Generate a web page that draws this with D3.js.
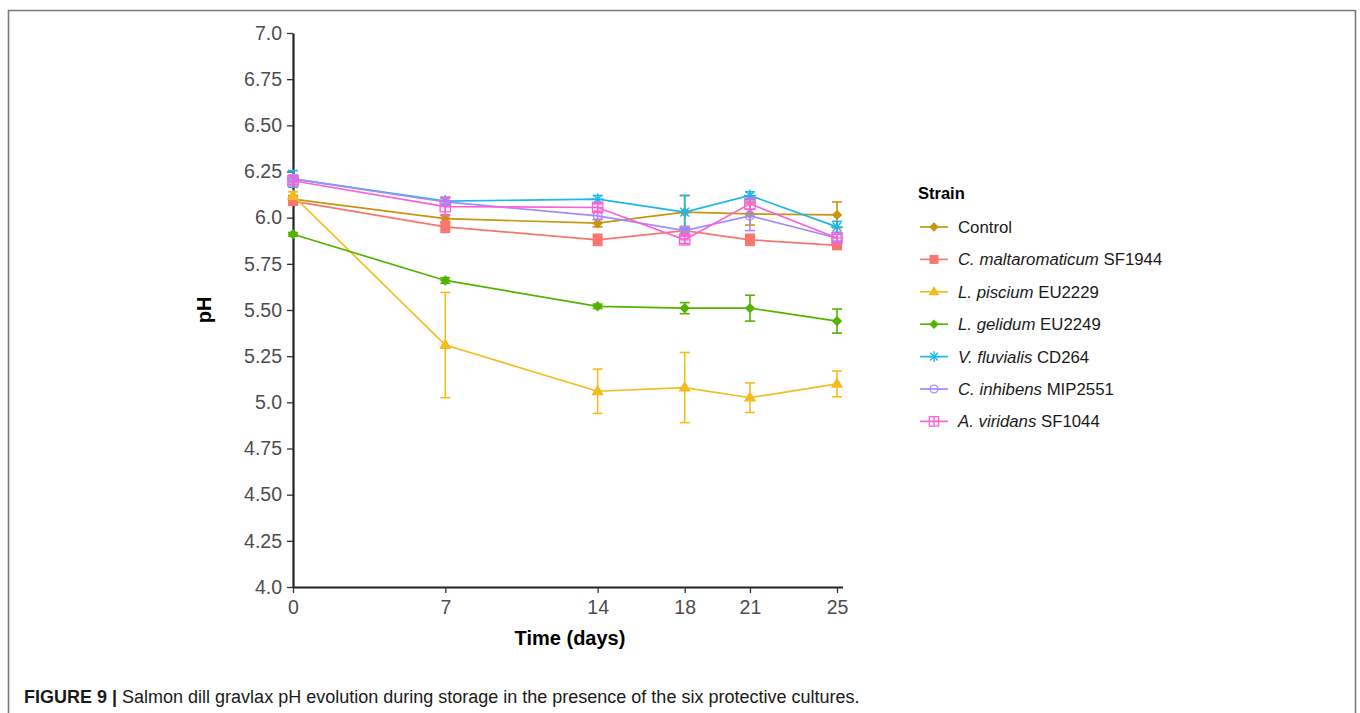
<!DOCTYPE html>
<html><head><meta charset="utf-8">
<script src="https://cdn.jsdelivr.net/npm/d3@7"></script>
<style>body{margin:0;background:#fff}svg{display:block}</style>
</head><body>
<svg id="c" width="1360" height="713"></svg>
<script>
const days = [0, 7, 14, 18, 21, 25];
const yTicks = [4.0, 4.25, 4.5, 4.75, 5.0, 5.25, 5.5, 5.75, 6.0, 6.25, 6.5, 6.75, 7.0];
const yTickLabels = ["4.0","4.25","4.50","4.75","5.0","5.25","5.50","5.75","6.0","6.25","6.50","6.75","7.0"];
const strainNames = ["Control","C. maltaromaticum","L. piscium","L. gelidum","V. fluvialis","C. inhibens","A. viridans"];
const strainCodes = ["","SF1944","EU2229","EU2249","CD264","MIP2551","SF1044"];
const colors = ["#C99510","#F8766D","#F5BC1E","#53B400","#1DB8EB","#A58AFF","#FB61D7"];
const shapes = ["diamond","square","triangle","diamond","asterisk","circleOpen","squarePlus"];
const controlPH  = [6.10, 5.995, 5.97, 6.03, 6.02, 6.015];
const controlSD  = [0.02, 0.02, 0.02, 0.09, 0.06, 0.07];
const maltPH     = [6.09, 5.95, 5.88, 5.93, 5.88, 5.85];
const maltSD     = [0.02, 0.03, 0.03, 0.02, 0.03, 0.02];
const piscPH     = [6.12, 5.31, 5.06, 5.08, 5.025, 5.10];
const piscSD     = [0.02, 0.285, 0.12, 0.19, 0.08, 0.07];
const gelPH      = [5.91, 5.66, 5.52, 5.51, 5.51, 5.44];
const gelSD      = [0.01, 0.015, 0.012, 0.03, 0.07, 0.065];
const fluvPH     = [6.21, 6.09, 6.10, 6.03, 6.12, 5.95];
const fluvSD     = [0.045, 0.02, 0.02, 0.09, 0.02, 0.03];
const inhPH      = [6.21, 6.085, 6.01, 5.93, 6.01, 5.89];
const inhSD      = [0.02, 0.02, 0.02, 0.02, 0.08, 0.02];
const virPH      = [6.20, 6.06, 6.055, 5.88, 6.075, 5.89];
const virSD      = [0.02, 0.05, 0.02, 0.02, 0.03, 0.03];
const allPH = [controlPH, maltPH, piscPH, gelPH, fluvPH, inhPH, virPH];
const allSD = [controlSD, maltSD, piscSD, gelSD, fluvSD, inhSD, virSD];

const svg = d3.select("#c");
const x = d3.scaleLinear().domain([0,25]).range([293,837]);
const y = d3.scaleLinear().domain([4,7]).range([587,33]);
const FONT = "Liberation Sans, Arial, sans-serif";

// frame
svg.append("path").attr("d","M8.5,713 V10.5 H1355.5 V713").attr("fill","none").attr("stroke","#7a7a7a").attr("stroke-width",1.6);

// axes
const gy = svg.append("g").attr("transform","translate(293,0)")
  .call(d3.axisLeft(y).tickValues(yTicks).tickFormat((d,i)=>yTickLabels[i]).tickSize(6).tickSizeOuter(0));
gy.select(".domain").attr("stroke","#222").attr("stroke-width",2.2);
gy.selectAll(".tick line").attr("stroke","#333").attr("stroke-width",1.3);
gy.selectAll(".tick text").attr("fill","#4D4D4D").attr("font-family",FONT).attr("font-size","19.5px").attr("x",-11);

const gx = svg.append("g").attr("transform","translate(0,587)")
  .call(d3.axisBottom(x).tickValues(days).tickFormat(d3.format("d")).tickSize(6).tickSizeOuter(0));
gx.select(".domain").attr("d","M293,0.5 H843").attr("stroke","#222").attr("stroke-width",2.2);
gx.selectAll(".tick line").attr("stroke","#333").attr("stroke-width",1.3);
gx.selectAll(".tick text").attr("fill","#4D4D4D").attr("font-family",FONT).attr("font-size","19.5px").attr("dy","0.9em");

svg.append("text").attr("x",570).attr("y",645).attr("text-anchor","middle")
  .attr("font-family",FONT).attr("font-weight","bold").attr("font-size","20px").text("Time (days)");
svg.append("text").attr("transform","translate(211,310) rotate(-90)").attr("text-anchor","middle")
  .attr("font-family",FONT).attr("font-weight","bold").attr("font-size","20px").text("pH");

function drawShape(g, shape, cx, cy, col, s) {
  s = s || 1;
  if (shape==="diamond") {
    const r=5.2*s;
    g.append("path").attr("d",`M${cx},${cy-r}L${cx+r},${cy}L${cx},${cy+r}L${cx-r},${cy}Z`).attr("fill",col);
  } else if (shape==="square") {
    const r=5*s;
    g.append("rect").attr("x",cx-r).attr("y",cy-r).attr("width",2*r).attr("height",2*r).attr("fill",col);
  } else if (shape==="triangle") {
    const r=6.5*s;
    g.append("path").attr("d",`M${cx},${cy-r}L${cx+r*0.95},${cy+r*0.6}L${cx-r*0.95},${cy+r*0.6}Z`).attr("fill",col);
  } else if (shape==="asterisk") {
    const r=6*s; const gg=g.append("g").attr("stroke",col).attr("stroke-width",1.4);
    gg.append("line").attr("x1",cx-r).attr("x2",cx+r).attr("y1",cy).attr("y2",cy);
    gg.append("line").attr("x1",cx).attr("x2",cx).attr("y1",cy-r).attr("y2",cy+r);
    const d=r*0.72;
    gg.append("line").attr("x1",cx-d).attr("x2",cx+d).attr("y1",cy-d).attr("y2",cy+d);
    gg.append("line").attr("x1",cx-d).attr("x2",cx+d).attr("y1",cy+d).attr("y2",cy-d);
  } else if (shape==="circleOpen") {
    g.append("circle").attr("cx",cx).attr("cy",cy).attr("r",4.3*s).attr("fill","none").attr("stroke",col).attr("stroke-width",1.3);
  } else if (shape==="squarePlus") {
    const r=5.2*s; const gg=g.append("g").attr("stroke",col).attr("stroke-width",1.3).attr("fill","none");
    gg.append("rect").attr("x",cx-r).attr("y",cy-r).attr("width",2*r).attr("height",2*r);
    gg.append("line").attr("x1",cx-r).attr("x2",cx+r).attr("y1",cy).attr("y2",cy);
    gg.append("line").attr("x1",cx).attr("x2",cx).attr("y1",cy-r).attr("y2",cy+r);
  }
}

const line = d3.line().x(d=>x(d[0])).y(d=>y(d[1]));
allPH.forEach((vals,i)=>{
  const g = svg.append("g");
  const pts = days.map((d,j)=>[d, vals[j], allSD[i][j]]);
  g.append("path").datum(pts).attr("d",line).attr("fill","none").attr("stroke",colors[i]).attr("stroke-width",1.7);
  pts.forEach(p=>{
    const cx=x(p[0]), y1=y(p[1]+p[2]), y2=y(p[1]-p[2]);
    g.append("line").attr("x1",cx).attr("x2",cx).attr("y1",y1).attr("y2",y2).attr("stroke",colors[i]).attr("stroke-width",1.6);
    [y1,y2].forEach(yy=>g.append("line").attr("x1",cx-5).attr("x2",cx+5).attr("y1",yy).attr("y2",yy).attr("stroke",colors[i]).attr("stroke-width",1.6));
  });
  pts.forEach(p=>drawShape(g, shapes[i], x(p[0]), y(p[1]), colors[i]));
});

// legend
const lg = svg.append("g");
lg.append("text").attr("x",918).attr("y",199).attr("font-family",FONT).attr("font-weight","bold").attr("font-size","16.5px").text("Strain");
strainNames.forEach((n,i)=>{
  const yy = 227 + i*32.4;
  lg.append("line").attr("x1",920).attr("x2",948).attr("y1",yy).attr("y2",yy).attr("stroke",colors[i]).attr("stroke-width",1.7);
  drawShape(lg, shapes[i], 934, yy, colors[i], 0.9);
  const t = lg.append("text").attr("x",958).attr("y",yy+6).attr("font-family",FONT).attr("font-size","16.8px").attr("fill","#1a1a1a");
  if (i===0) t.text(n);
  else { t.append("tspan").attr("font-style","italic").text(n); t.append("tspan").text(" "+strainCodes[i]); }
});

// caption
const cap = svg.append("text").attr("x",24).attr("y",703).attr("font-family",FONT).attr("font-size","18px").attr("fill","#1a1a1a");
cap.append("tspan").attr("font-weight","bold").text("FIGURE 9 |");
cap.append("tspan").text(" Salmon dill gravlax pH evolution during storage in the presence of the six protective cultures.");
</script>
</body></html>
